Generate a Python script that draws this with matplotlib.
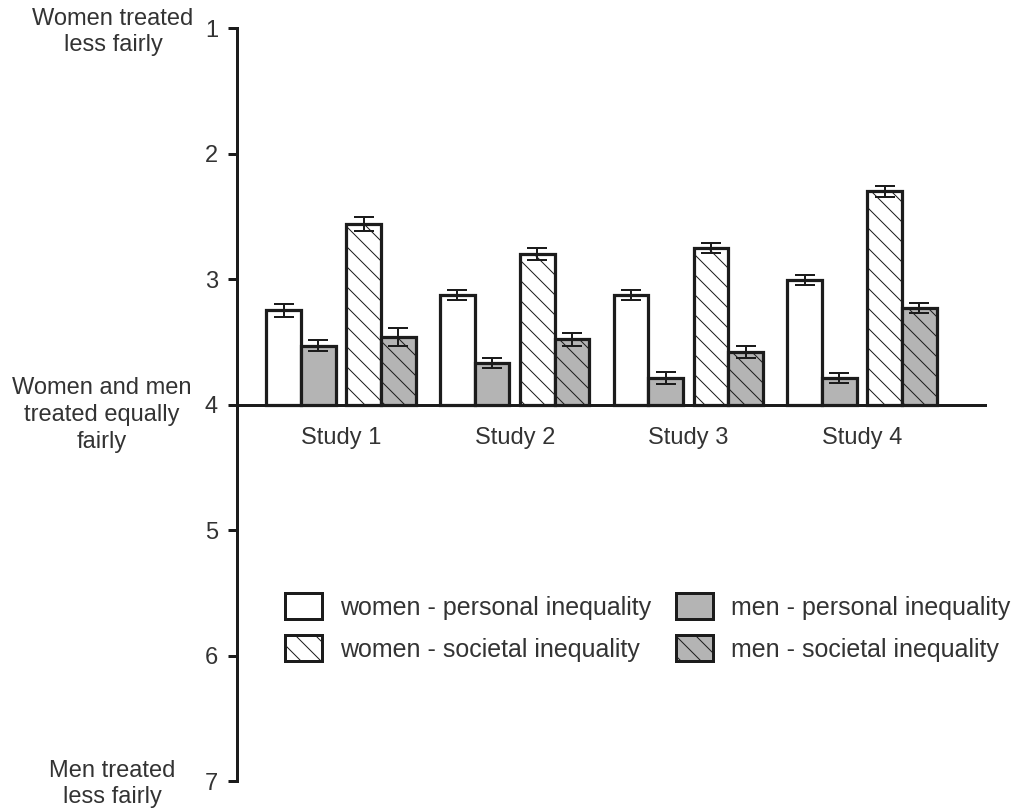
import matplotlib
matplotlib.use("Agg")
import matplotlib.pyplot as plt
from matplotlib.patches import Patch
import numpy as np

# ---- data ----
studies = ["Study 1", "Study 2", "Study 3", "Study 4"]
women_personal = [3.25, 3.13, 3.13, 3.01]
women_personal_err = [0.05, 0.04, 0.04, 0.04]
men_personal = [3.53, 3.67, 3.79, 3.79]
men_personal_err = [0.04, 0.04, 0.05, 0.04]
women_societal = [2.56, 2.80, 2.75, 2.30]
women_societal_err = [0.055, 0.05, 0.04, 0.045]
men_societal = [3.46, 3.48, 3.58, 3.23]
men_societal_err = [0.07, 0.05, 0.05, 0.04]
yticks = [1, 2, 3, 4, 5, 6, 7]
legend_labels = ["women - personal inequality", "women - societal inequality",
                 "men - personal inequality", "men - societal inequality"]
baseline = 4

DPI = 120
W, H = 1016, 810
PT = 72.0 / DPI  # points per pixel

plt.rcParams['font.family'] = ['Liberation Sans', 'DejaVu Sans']
plt.rcParams['hatch.linewidth'] = 1.0 * PT

TXT = '#333333'
LINE = '#1c1c1c'
GREY = '#b4b4b4'
FS = 23.6 * PT
LFS = 25.0 * PT

fig = plt.figure(figsize=(W / DPI, H / DPI), dpi=DPI)
ax = fig.add_axes([237 / W, (H - 781) / H, 748 / W, 753 / H])

x = np.arange(len(studies))
bw = 0.2
offsets = [-0.33, -0.13, 0.13, 0.33]
series = [
    (women_personal, women_personal_err, 'white', None),
    (men_personal, men_personal_err, GREY, None),
    (women_societal, women_societal_err, 'white', '\\\\'),
    (men_societal, men_societal_err, GREY, '\\\\'),
]
for (vals, errs, fc, hatch), off in zip(series, offsets):
    vals = np.array(vals)
    ax.bar(x + off, vals - baseline, bottom=baseline, width=bw, facecolor=fc,
           edgecolor=LINE, linewidth=3.2 * PT, hatch=hatch, zorder=2)
    ax.errorbar(x + off, vals, yerr=errs, fmt='none', ecolor=LINE,
                elinewidth=2 * PT, capsize=10 * PT, capthick=2 * PT, zorder=3)

ax.set_ylim(7, 1)
ax.set_xlim(-0.599, 3.708)
ax.set_yticks(yticks)
ax.set_xticks(x)
ax.set_xticklabels(studies)
for s in ['top', 'right']:
    ax.spines[s].set_visible(False)
ax.spines['left'].set_linewidth(3 * PT)
ax.spines['left'].set_color(LINE)
ax.spines['bottom'].set_position(('data', baseline))
ax.spines['bottom'].set_linewidth(3 * PT)
ax.spines['bottom'].set_color(LINE)
ax.spines['bottom'].set_zorder(4)
ax.tick_params(axis='y', length=9 * PT, width=3 * PT, color=LINE, pad=10 * PT,
               labelsize=FS, labelcolor=TXT)
ax.tick_params(axis='x', length=0, pad=22 * PT, labelsize=FS, labelcolor=TXT)

# side labels
def ftext(px, py, s):
    fig.text(px / W, 1 - py / H, s, ha='center', va='center', fontsize=FS,
             color=TXT, multialignment='center', linespacing=1.28)

ftext(113, 32, "Women treated\nless fairly")
ftext(102, 415, "Women and men\ntreated equally\nfairly")
ftext(112, 784, "Men treated\nless fairly")

handles = [
    Patch(facecolor='white', edgecolor=LINE, linewidth=3 * PT),
    Patch(facecolor='white', edgecolor=LINE, linewidth=3 * PT, hatch='\\\\'),
    Patch(facecolor=GREY, edgecolor=LINE, linewidth=3 * PT),
    Patch(facecolor=GREY, edgecolor=LINE, linewidth=3 * PT, hatch='\\\\'),
]
leg = ax.legend(handles, legend_labels, ncol=2, loc='upper left',
                bbox_to_anchor=(285 / W, 1 - 593 / H), bbox_transform=fig.transFigure,
                frameon=False, borderpad=0, borderaxespad=0, fontsize=LFS,
                handlelength=37 / 25.0, handleheight=31 / 25.0,
                handletextpad=18 / 25.0, labelspacing=0.62, columnspacing=0.98)
for t in leg.get_texts():
    t.set_color(TXT)

fig.savefig("out.png", dpi=DPI)
